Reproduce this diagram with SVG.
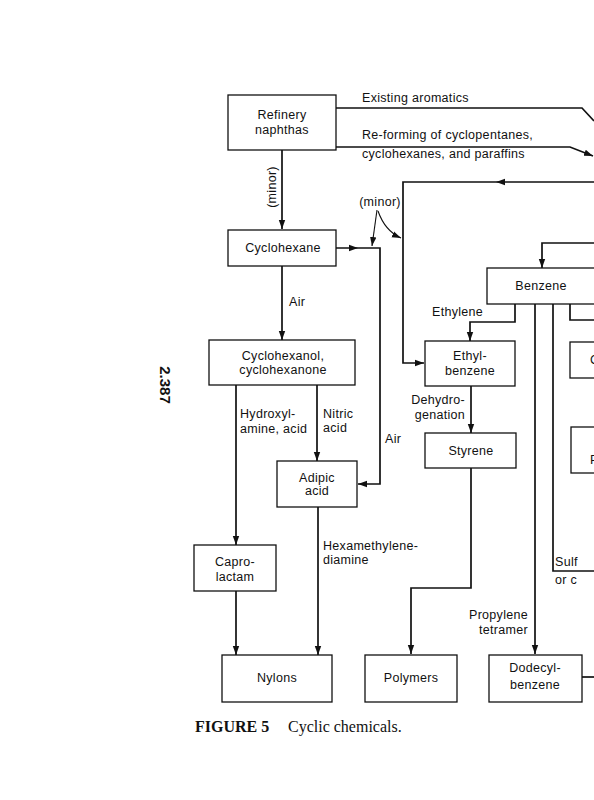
<svg xmlns="http://www.w3.org/2000/svg" width="594" height="800" viewBox="0 0 594 800">
<style>
.box{fill:#fff;stroke:#111;stroke-width:1.3}
.ln{fill:none;stroke:#111;stroke-width:1.7}
.t{font-family:"Liberation Sans",Arial,sans-serif;font-size:12.5px;letter-spacing:0.3px;fill:#111}
.m{text-anchor:middle}
.e{text-anchor:end}
</style>
<defs>
<marker id="ah" markerUnits="userSpaceOnUse" markerWidth="10" markerHeight="8" refX="9" refY="4" orient="auto">
<path d="M0,0.8 L9,4 L0,7.2 Z" fill="#111"/>
</marker>
</defs>
<rect width="594" height="800" fill="#fff"/>
<g id="connectors">
<path class="ln" d="M282,150 V229" marker-end="url(#ah)"/>
<path class="ln" d="M336,108 H582 L594,121"/>
<path class="ln" d="M336,147 H570 L593,156" marker-end="url(#ah)"/>
<path class="ln" d="M594,182 H403 V363 H424" marker-end="url(#ah)"/>
<path d="M496,182 L505,178.8 L505,185.2 Z" fill="#111"/>
<path class="ln" d="M336,248 H380 V484 H358" marker-end="url(#ah)"/>
<path d="M358,248 L349,244.8 L349,251.2 Z" fill="#111"/>
<path class="ln" style="stroke-width:1.1" d="M377,210 L372,246" marker-end="url(#ah)"/>
<path class="ln" style="stroke-width:1.1" d="M378,211 Q385,231 401,238" marker-end="url(#ah)"/>
<path class="ln" d="M282,266 V340" marker-end="url(#ah)"/>
<path class="ln" d="M236,385 V545" marker-end="url(#ah)"/>
<path class="ln" d="M317,385 V461" marker-end="url(#ah)"/>
<path class="ln" d="M236,591 V655" marker-end="url(#ah)"/>
<path class="ln" d="M318,507 V655" marker-end="url(#ah)"/>
<path class="ln" d="M594,243 H542 V268" marker-end="url(#ah)"/>
<path class="ln" d="M515,304 V322 H470 V341" marker-end="url(#ah)"/>
<path class="ln" d="M471,386 V433" marker-end="url(#ah)"/>
<path class="ln" d="M471,468 V588 H411 V654" marker-end="url(#ah)"/>
<path class="ln" d="M535,304 V654" marker-end="url(#ah)"/>
<path class="ln" d="M553,304 V571 H594"/>
<path class="ln" d="M570,304 V320 H594"/>
<path class="ln" d="M582,677 H594"/>
</g>
<g id="edge-labels">
<text class="t" x="362" y="102">Existing aromatics</text>
<text class="t" x="362" y="139">Re-forming of cyclopentanes,</text>
<text class="t" x="362" y="158">cyclohexanes, and paraffins</text>
<text class="t m" transform="translate(276,187) rotate(-90)">(minor)</text>
<text class="t m" x="380" y="206">(minor)</text>
<text class="t" x="289" y="306">Air</text>
<text class="t" x="240" y="418">Hydroxyl-</text>
<text class="t" x="240" y="433">amine, acid</text>
<text class="t" x="323" y="418">Nitric</text>
<text class="t" x="323" y="432">acid</text>
<text class="t" x="385" y="443">Air</text>
<text class="t" x="323" y="550">Hexamethylene-</text>
<text class="t" x="323" y="564">diamine</text>
<text class="t" x="432" y="316">Ethylene</text>
<text class="t e" x="465" y="404">Dehydro-</text>
<text class="t e" x="465" y="419">genation</text>
<text class="t e" x="528" y="619">Propylene</text>
<text class="t e" x="528" y="634">tetramer</text>
<text class="t" x="555" y="566">Sulf</text>
<text class="t" x="555" y="584">or c</text>
</g>
<g id="refinery-naphthas">
<rect class="box" x="228" y="95" width="108" height="55"/>
<text class="t m" x="282" y="119">Refinery</text>
<text class="t m" x="282" y="134">naphthas</text>
</g>
<g id="cyclohexane">
<rect class="box" x="228" y="230" width="108" height="36"/>
<text class="t m" x="283" y="252">Cyclohexane</text>
</g>
<g id="cyclohexanol">
<rect class="box" x="209" y="340" width="146" height="45"/>
<text class="t m" x="283" y="360">Cyclohexanol,</text>
<text class="t m" x="283" y="374">cyclohexanone</text>
</g>
<g id="adipic-acid">
<rect class="box" x="277" y="461" width="80" height="46"/>
<text class="t m" x="317" y="482">Adipic</text>
<text class="t m" x="317" y="495">acid</text>
</g>
<g id="caprolactam">
<rect class="box" x="194" y="545" width="82" height="46"/>
<text class="t m" x="235" y="566">Capro-</text>
<text class="t m" x="235" y="581">lactam</text>
</g>
<g id="nylons">
<rect class="box" x="222" y="655" width="110" height="47"/>
<text class="t m" x="277" y="682">Nylons</text>
</g>
<g id="polymers">
<rect class="box" x="365" y="655" width="92" height="47"/>
<text class="t m" x="411" y="682">Polymers</text>
</g>
<g id="dodecylbenzene">
<rect class="box" x="489" y="655" width="93" height="47"/>
<text class="t m" x="535" y="672">Dodecyl-</text>
<text class="t m" x="535" y="689">benzene</text>
</g>
<g id="benzene">
<rect class="box" x="487" y="268" width="120" height="36"/>
<text class="t m" x="541" y="290">Benzene</text>
</g>
<g id="ethylbenzene">
<rect class="box" x="425" y="341" width="90" height="45"/>
<text class="t m" x="470" y="360">Ethyl-</text>
<text class="t m" x="470" y="375">benzene</text>
</g>
<g id="styrene">
<rect class="box" x="425" y="433" width="91" height="35"/>
<text class="t m" x="471" y="455">Styrene</text>
</g>
<g id="right-box-1">
<rect class="box" x="570" y="342" width="40" height="36"/>
<text class="t" x="590" y="364">C</text>
</g>
<g id="right-box-2">
<rect class="box" x="571" y="427" width="40" height="46"/>
<text class="t" x="590" y="464">P</text>
</g>
<text x="160" y="385" transform="rotate(90 160 385)" text-anchor="middle" font-family="Liberation Sans, Arial, sans-serif" font-weight="bold" font-size="15" fill="#111">2.387</text>
<text x="195" y="732" font-family="Liberation Serif, Times New Roman, serif" font-size="16" fill="#111"><tspan font-weight="bold">FIGURE 5</tspan><tspan x="288">Cyclic chemicals.</tspan></text>
</svg>
